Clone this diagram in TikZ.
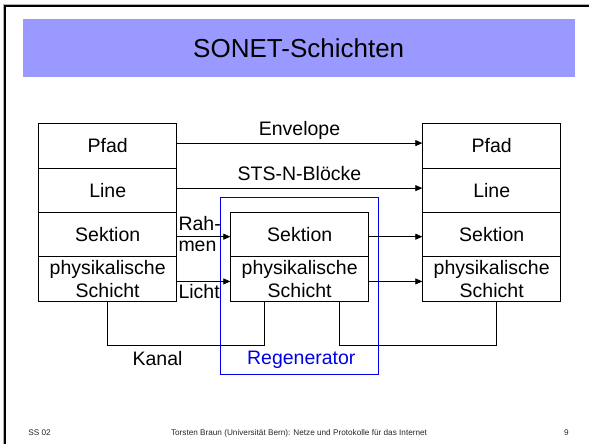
\documentclass[tikz,border=0pt]{standalone}
\usepackage{fontspec}
\setmainfont{Liberation Sans}
\usetikzlibrary{arrows.meta}
\definecolor{titleblue}{RGB}{153,153,255}
\definecolor{regblue}{RGB}{0,0,230}

\begin{document}
\begin{tikzpicture}[x=1pt,y=-1pt,
  layer/.style={draw, line width=0.8pt, minimum width=138pt, minimum height=44.35pt,
    inner sep=0pt, anchor=north west, align=center,
    font=\fontsize{19.5}{22.7}\selectfont},
  link/.style={line width=0.8pt, -{Triangle[length=7pt,width=6pt]}},
  wire/.style={line width=0.8pt},
  lbl/.style={font=\fontsize{19.5}{22.7}\selectfont, inner sep=0pt},
  foot/.style={font=\fontsize{8.2}{9}\selectfont, inner sep=0pt, text=black!85}]

\useasboundingbox (0,0) rectangle (589,444);

% slide frame
\draw[black!30, line width=0.8pt] (3.2,444) -- (3.2,4.0) -- (589,4.0);
\draw[line width=2.3pt] (4.9,444) -- (4.9,5.8) -- (589,5.8);

% title bar
\fill[titleblue] (22.7,19.5) rectangle (574.7,77.5);
\node[font=\fontsize{26}{30}\selectfont, inner sep=0pt] (title) at (298.7,48.5) {SONET-Schichten};

% left end system
\node[layer] (lp) at (38.3,123.3)  {Pfad};
\node[layer] (ll) at (38.3,167.65) {Line};
\node[layer] (ls) at (38.3,212.0)  {Sektion};
\node[layer] (lh) at (38.3,256.35) {physikalische\\Schicht};

% right end system
\node[layer] (rp) at (422.3,123.3)  {Pfad};
\node[layer] (rl) at (422.3,167.65) {Line};
\node[layer] (rs) at (422.3,212.0)  {Sektion};
\node[layer] (rh) at (422.3,256.35) {physikalische\\Schicht};

% regenerator
\node[layer] (ms) at (230.3,212.0)  {Sektion};
\node[layer] (mh) at (230.3,256.35) {physikalische\\Schicht};
\draw[regblue, line width=0.8pt] (220,197.3) rectangle (378.5,374.3);
\node[lbl, text=regblue] (reg) at (301.3,360) {Regenerator};

% peer connections
\draw[link] ([yshift=2.8pt]lp.east) -- ([yshift=2.8pt]rp.west);
\node[lbl] (env) at (299.5,130) {Envelope};
\draw[link] ([yshift=2.1pt]ll.east) -- ([yshift=2.1pt]rl.west);
\node[lbl] (sts) at (299.5,173.3) {STS-N-Blöcke};

\draw[link] ([yshift=-2.1pt]ls.east) -- ([yshift=-2.1pt]ms.west);
\draw[link] ([yshift=-2.5pt]lh.east) -- ([yshift=-2.5pt]mh.west);
\draw[link] ([yshift=-2.1pt]ms.east) -- ([yshift=-2.1pt]rs.west);
\draw[link] ([yshift=-2.5pt]mh.east) -- ([yshift=-2.5pt]rh.west);

\node[lbl, anchor=west] (rah) at (178.3,223.3) {Rah-};
\node[lbl, anchor=west] (men) at (178.3,246.7) {men};
\node[lbl, anchor=west] (licht) at (178.3,291.7) {Licht};

% physical channels
\draw[wire] (lh.south) -- ++(0,43.6) -| ([xshift=-35pt]mh.south);
\draw[wire] ([xshift=39.4pt]mh.south) -- ++(0,43.6) -| ([xshift=4.7pt]rh.south);
\node[lbl] (kanal) at (157.5,359) {Kanal};

% footer
\node[foot] (ss) at (39.5,433) {SS 02};
\node[foot] (src) at (299,433) {Torsten Braun (Universität Bern): Netze und Protokolle für das Internet};
\node[foot] (page) at (566.5,433) {9};
\end{tikzpicture}
\end{document}
